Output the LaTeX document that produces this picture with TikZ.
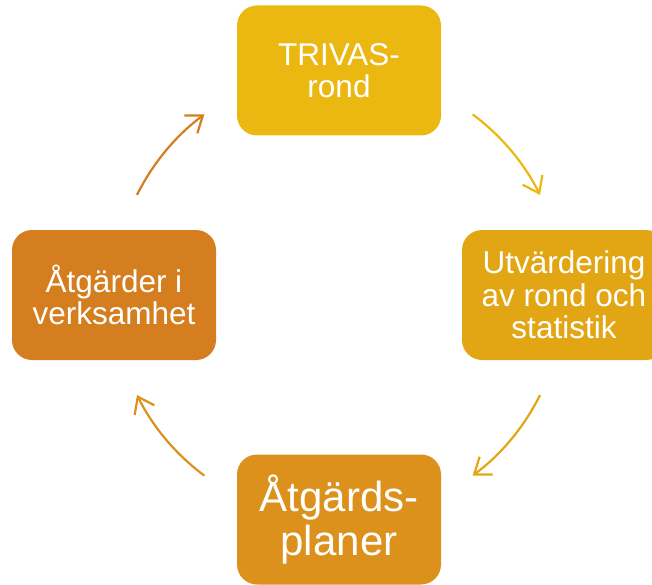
\documentclass[tikz,border=0pt]{standalone}
\usepackage{fontspec}
\setmainfont{Liberation Sans}
\usetikzlibrary{arrows.meta}

\definecolor{gul}{HTML}{EBB812}
\definecolor{guldbrun}{HTML}{E2A614}
\definecolor{morkgul}{HTML}{DB911B}
\definecolor{brun}{HTML}{D57E1F}

\tikzset{
  ruta/.style={rectangle, rounded corners=20pt, minimum width=204pt, minimum height=130pt,
    inner sep=0pt, text=white, align=center, font=\fontsize{31.5}{32.5}\selectfont},
  pil/.style={line width=2.2pt, ->}
}

\begin{document}
\begin{tikzpicture}[x=1pt,y=-1pt,>={Straight Barb[length=15pt,width=22pt]}]
  \useasboundingbox (0,0) rectangle (652,585);

  \node[ruta, fill=gul] (trivas) at (339,70.5) {TRIVAS-\\rond};
  \node[ruta, fill=guldbrun] (utvardering) at (564,295) {Utvärdering\\av rond och\\statistik};
  \node[ruta, fill=morkgul, font=\fontsize{42}{43.5}\selectfont] (planer) at (339,519.5) {Åtgärds-\\planer};
  \node[ruta, fill=brun] (atgarder) at (114,295) {Åtgärder i\\verksamhet};

  % pilarna ligger på en cirkel genom rutornas mitt
  \coordinate (mitt) at (338.5,295);
  \foreach \a/\b/\f in {-53.4/-26.4/gul, 26.4/53.4/guldbrun, 126.6/153.6/morkgul, -153.6/-126.6/brun} {
    \draw[pil,\f] ([shift={(\a:225)}]mitt) arc[start angle=\a, end angle=\b, radius=225];
  }
\end{tikzpicture}
\end{document}
